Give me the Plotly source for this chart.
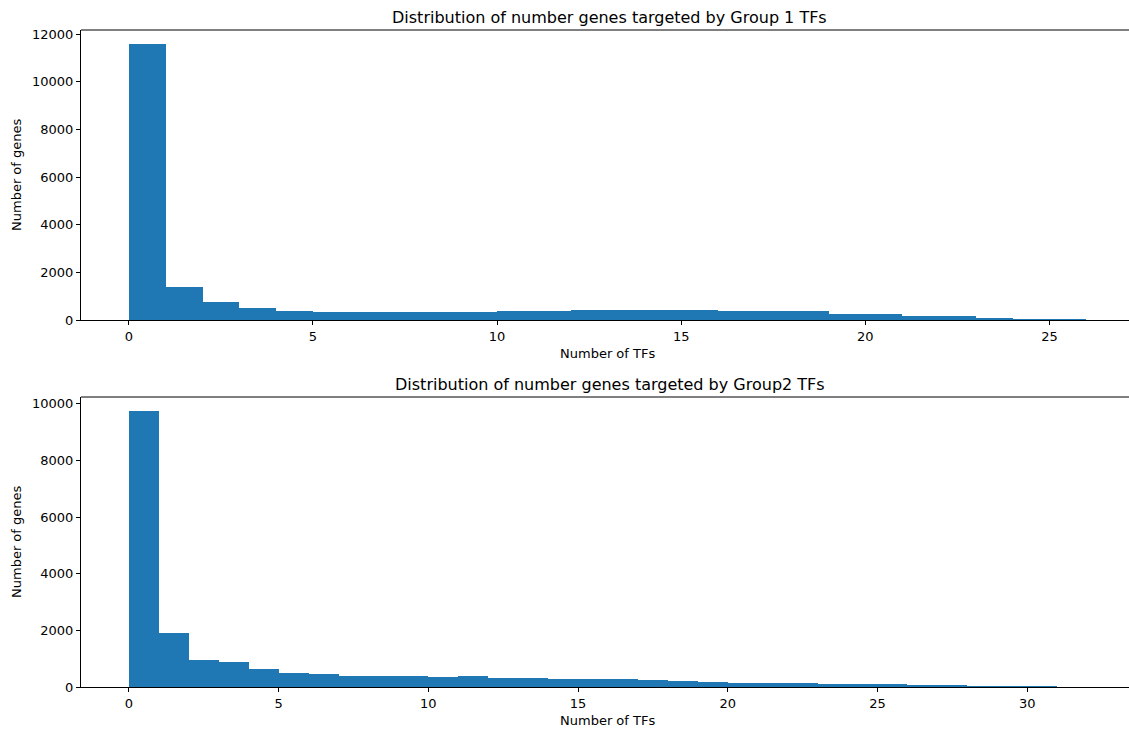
import plotly.graph_objects as go
from plotly.subplots import make_subplots

# Histogram counts (bin width 1, bins start at 0)
group1_counts = [11580, 1385, 756, 504, 378, 340, 335, 330, 330, 330,
                 378, 378, 420, 420, 420, 420, 378, 378, 378, 252,
                 252, 168, 168, 84, 28, 28]
group2_counts = [9740, 1905, 953, 882, 635, 494, 459, 388, 388, 388,
                 353, 388, 318, 318, 282, 282, 282, 247, 212, 177,
                 141, 141, 141, 106, 106, 106, 71, 71, 35, 35,
                 35, 0]

group1_yticks = [0, 2000, 4000, 6000, 8000, 10000, 12000]
group2_yticks = [0, 2000, 4000, 6000, 8000, 10000]
group1_xticks = [0, 5, 10, 15, 20, 25]
group2_xticks = [0, 5, 10, 15, 20, 25, 30]

group1_title = "Distribution of number genes targeted by Group 1 TFs"
group2_title = "Distribution of number genes targeted by Group2 TFs"
x_label = "Number of TFs"
y_label = "Number of genes"

BAR = "#1f77b4"
FONT = "DejaVu Sans"

fig = make_subplots(rows=2, cols=1, vertical_spacing=0.0)

for row, counts in ((1, group1_counts), (2, group2_counts)):
    fig.add_trace(
        go.Bar(
            x=[i + 0.5 for i in range(len(counts))],
            y=counts,
            width=[1.0] * len(counts),
            marker=dict(color=BAR, line=dict(width=0)),
            showlegend=False,
        ),
        row=row, col=1,
    )

W, H = 1129, 733
ml, mr, mt, mb = 81, 0, 30, 46
plot_h = H - mt - mb

def frac(ypix):
    return (H - mb - ypix) / plot_h

axis_common = dict(
    showline=True, linecolor="black", linewidth=1,
    ticks="outside", ticklen=4, tickwidth=1, tickcolor="black",
    tickfont=dict(family=FONT, size=13, color="black"),
    showgrid=False, zeroline=False,
)

def ticks(vals):
    return dict(tickvals=vals, ticktext=[str(v) for v in vals])

fig.update_layout(
    width=W, height=H,
    margin=dict(l=ml, r=mr, t=mt, b=mb),
    plot_bgcolor="white", paper_bgcolor="white",
    bargap=0,
    font=dict(family=FONT, color="black"),
    xaxis=dict(axis_common, range=[-1.3, 27.16], domain=[0, 1], **ticks(group1_xticks)),
    yaxis=dict(axis_common, range=[0, 12170], domain=[frac(320), frac(30)],
               **ticks(group1_yticks)),
    xaxis2=dict(axis_common, range=[-1.6, 33.4], domain=[0, 1], **ticks(group2_xticks)),
    yaxis2=dict(axis_common, range=[0, 10240], domain=[frac(687), frac(397)],
                **ticks(group2_yticks)),
)

# top spines
for ytop in (30, 397):
    fig.add_shape(type="line", xref="paper", yref="paper",
                  x0=0, x1=1, y0=frac(ytop), y1=frac(ytop),
                  line=dict(color="black", width=1))

plot_w = W - ml - mr
def xfrac(xpix):
    return (xpix - ml) / plot_w

annotations = []
for title, ytitle, ylab, ymid in ((group1_title, 17.5, 353, 175),
                                  (group2_title, 384, 720, 542)):
    annotations.append(dict(
        text=title, xref="paper", yref="paper", x=xfrac(609.7), y=frac(ytitle),
        xanchor="center", yanchor="middle", showarrow=False,
        font=dict(family=FONT, size=16, color="black")))
    annotations.append(dict(
        text=x_label, xref="paper", yref="paper", x=xfrac(607), y=frac(ylab),
        xanchor="center", yanchor="middle", showarrow=False,
        font=dict(family=FONT, size=13, color="black")))
    annotations.append(dict(
        text=y_label, xref="paper", yref="paper", x=xfrac(16), y=frac(ymid),
        xanchor="center", yanchor="middle", showarrow=False, textangle=-90,
        font=dict(family=FONT, size=13, color="black")))
fig.update_layout(annotations=annotations)

fig.write_html("out.html")
